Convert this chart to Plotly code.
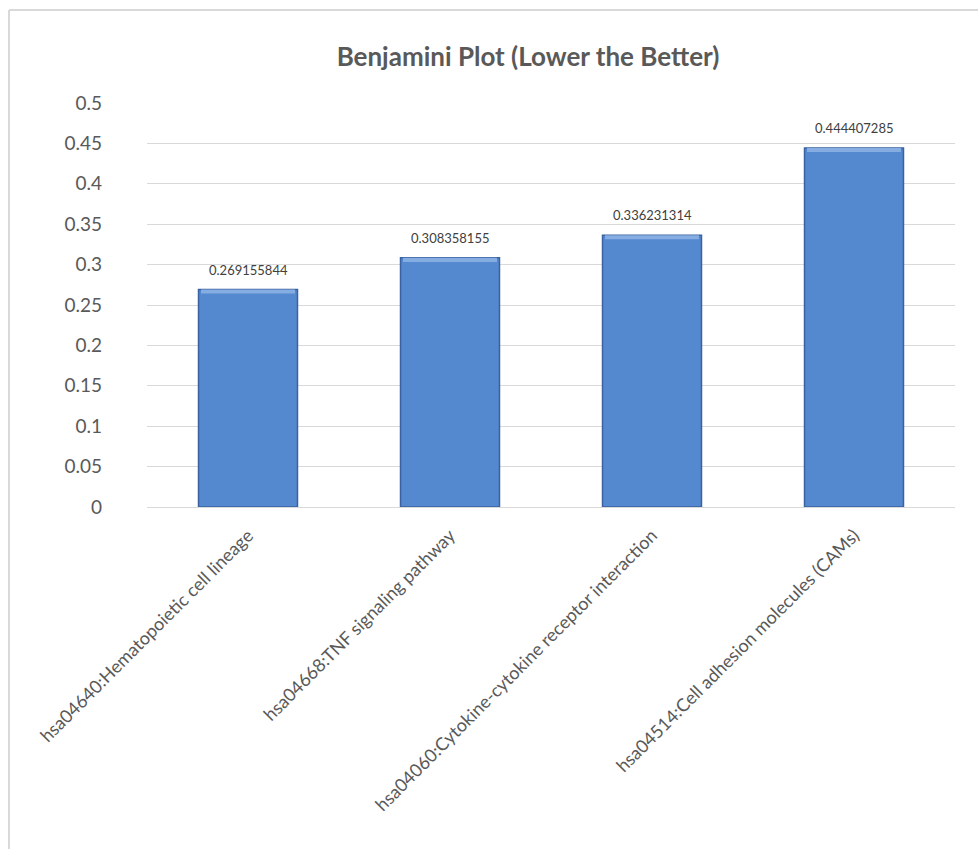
import plotly.graph_objects as go

# Pathway categories and their Benjamini-adjusted p-values
pathways = [
    "hsa04640:Hematopoietic cell lineage",
    "hsa04668:TNF signaling pathway",
    "hsa04060:Cytokine-cytokine receptor interaction",
    "hsa04514:Cell adhesion molecules (CAMs)",
]
benjamini = [0.269155844, 0.308358155, 0.336231314, 0.444407285]
value_labels = ["0.269155844", "0.308358155", "0.336231314", "0.444407285"]
y_ticks = [0, 0.05, 0.1, 0.15, 0.2, 0.25, 0.3, 0.35, 0.4, 0.45, 0.5]
y_tick_text = ["0", "0.05", "0.1", "0.15", "0.2", "0.25", "0.3", "0.35", "0.4", "0.45", "0.5"]

FONT = "Lato, 'Open Sans', sans-serif"
W, H = 978, 849
ML, MR, MT, MB = 147, 23, 103, 342

fig = go.Figure()

# main bars
fig.add_trace(go.Bar(
    x=pathways, y=benjamini,
    width=0.49,
    marker=dict(color="#5488cf", line=dict(color="#3a62a0", width=1.5)),
    hoverinfo="x+y",
))

# light bevel along the top edge of each bar
bevel = 0.005
fig.add_trace(go.Bar(
    x=pathways, y=[bevel] * len(benjamini),
    base=[v - bevel for v in benjamini],
    width=0.465,
    marker=dict(color="#86ade2", line=dict(width=0)),
    hoverinfo="skip",
))

# value labels above the bars
for cat, v, t in zip(pathways, benjamini, value_labels):
    fig.add_annotation(
        x=cat, y=v, text=t, showarrow=False,
        yshift=20, font=dict(family=FONT, size=13, color="#404040"),
    )

# chart frame (only top and left edges fall inside the view)
pw, ph = W - ML - MR, H - MT - MB
def px_x(p):
    return (p - ML) / pw
def px_y(p):
    return (H - MB - p) / ph
frame = dict(color="#d9d9d9", width=2)
fig.add_shape(type="line", xref="paper", yref="paper",
              x0=px_x(9), x1=px_x(990), y0=px_y(10), y1=px_y(10), line=frame)
fig.add_shape(type="line", xref="paper", yref="paper",
              x0=px_x(9), x1=px_x(9), y0=px_y(10), y1=px_y(860), line=frame)

fig.update_layout(
    width=W, height=H,
    margin=dict(l=ML, r=MR, t=MT, b=MB),
    paper_bgcolor="white", plot_bgcolor="white",
    barmode="overlay",
    showlegend=False,
    title=dict(
        text="<b>Benjamini Plot (Lower the Better)</b>",
        x=528 / W, xanchor="center", y=1 - 57 / H, yanchor="middle",
        font=dict(family=FONT, size=26, color="#595959"),
    ),
    xaxis=dict(
        tickangle=-45,
        tickfont=dict(family=FONT, size=18, color="#595959"),
        showgrid=False, showline=True, linecolor="#d9d9d9", linewidth=1,
        ticks="", ticklabelstandoff=10,
    ),
    yaxis=dict(
        range=[0, 0.5],
        tickvals=y_ticks, ticktext=y_tick_text,
        tickfont=dict(family=FONT, size=19, color="#595959"),
        showgrid=True, gridcolor="#d9d9d9", gridwidth=1,
        zeroline=False, showline=False, ticks="",
        ticklabelstandoff=44,
    ),
)

fig.write_html("out.html")
